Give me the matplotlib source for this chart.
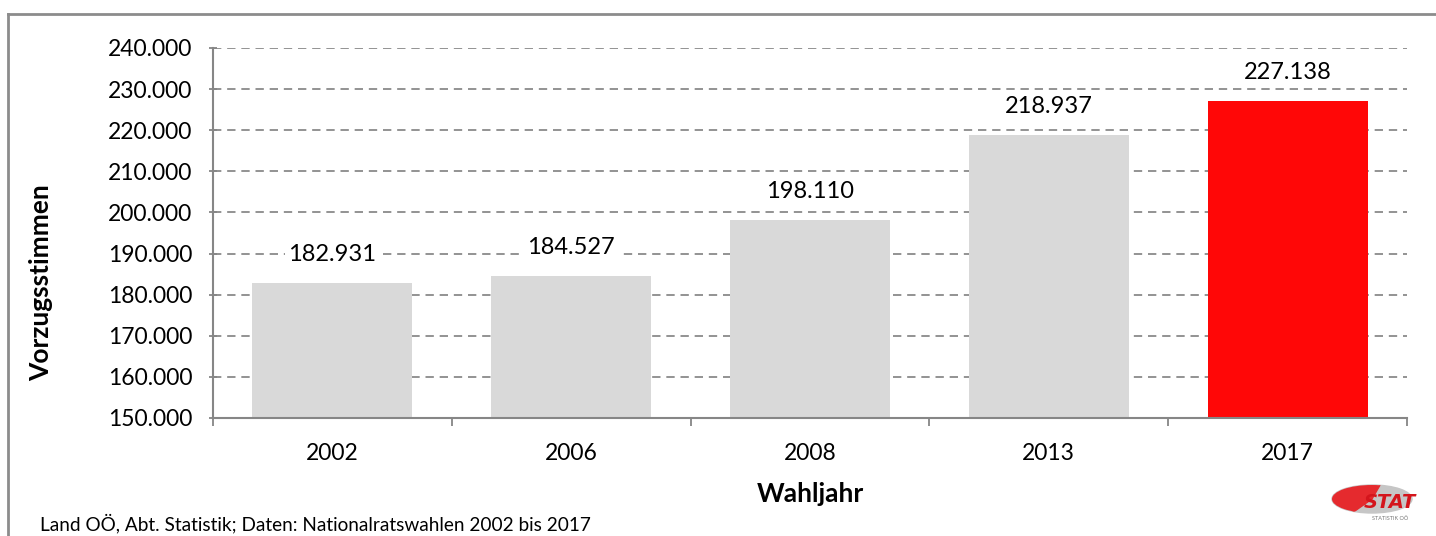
import matplotlib
matplotlib.use('Agg')
import matplotlib.pyplot as plt
from matplotlib.patches import Ellipse, Wedge
from matplotlib.lines import Line2D
import numpy as np

years = ['2002', '2006', '2008', '2013', '2017']
votes = [182931, 184527, 198110, 218937, 227138]
colors = ['#d9d9d9', '#d9d9d9', '#d9d9d9', '#d9d9d9', '#ff0707']
yticks = np.arange(150000, 240001, 10000)

def fmt(v):
	return '{:,}'.format(v).replace(',', '.')

plt.rcParams['font.family'] = ['Lato', 'DejaVu Sans']
plt.rcParams['font.size'] = 16.5

fig = plt.figure(figsize=(14.36, 5.36), dpi=100)
ax = fig.add_axes([213/1436, 1-418/536, (1407-213)/1436, (418-48)/536])

x = np.arange(len(years))
ax.bar(x, votes, width=0.67, color=colors, zorder=2)
for xi, v in zip(x, votes):
	ax.annotate(fmt(v), (xi, v), xytext=(0, 13), textcoords='offset points', ha='center', va='bottom',
		fontsize=17, zorder=4, bbox=dict(boxstyle='square,pad=0.15', fc='white', ec='none'))

ax.set_xlim(-0.5, len(years)-0.5)
ax.set_ylim(150000, 240000)
ax.set_yticks(yticks)
ax.set_yticklabels([fmt(v) for v in yticks])
ax.set_xticks(x)
ax.set_xticklabels(years)
ax.set_xticks(np.arange(-0.5, len(years)), minor=True)
ax.tick_params(axis='x', which='major', length=0, pad=18)
ax.tick_params(axis='x', which='minor', length=6, width=1.3, color='#868686', direction='out')
ax.tick_params(axis='y', length=6, width=1.3, color='#868686', direction='inout', pad=12)

ax.grid(axis='y', color='#808080', linestyle=(0, (5, 3.5)), linewidth=1.2, zorder=0)
ax.set_axisbelow(True)
for s in ['top', 'right']:
	ax.spines[s].set_visible(False)
for s in ['left', 'bottom']:
	ax.spines[s].set_color('#868686')
	ax.spines[s].set_linewidth(1.5)

ax.set_ylabel('Vorzugsstimmen', fontweight='bold', fontsize=19)
ax.set_xlabel('Wahljahr', fontweight='bold', fontsize=19)
ax.yaxis.set_label_coords((53-213)/1194, (418-283)/370)
ax.xaxis.set_label_coords(0.5, (418-482)/370)

# frame around the chart
fig.add_artist(Line2D([8/1436, 1], [1-14/536, 1-14/536], color='#8c8c8c', lw=2, transform=fig.transFigure))
fig.add_artist(Line2D([8/1436, 8/1436], [0, 1-14/536], color='#8c8c8c', lw=2, transform=fig.transFigure))

fig.text(40/1436, 1-523/536, 'Land OÖ, Abt. Statistik; Daten: Nationalratswahlen 2002 bis 2017', fontsize=13.7, va='center', ha='left')

# logo
lax = fig.add_axes([1328/1436, 1-526/536, 95/1436, 45/536])
lax.set_xlim(0, 95)
lax.set_ylim(0, 45)
lax.axis('off')
ell = Ellipse((44, 27), 80, 28, color='#c6c6c6')
lax.add_patch(ell)
wed = Wedge((44, 27), 45, 60, 215, color='#e52a2e')
lax.add_patch(wed)
wed.set_clip_path(ell)
lax.text(62, 24, 'STAT', color='#d4151c', fontsize=14, fontweight='bold', fontstyle='italic', ha='center', va='center', family='DejaVu Sans')
lax.text(62, 7, 'STATISTIK OÖ', color='#777777', fontsize=4, ha='center', va='center')

fig.savefig('out.png', dpi=100)
